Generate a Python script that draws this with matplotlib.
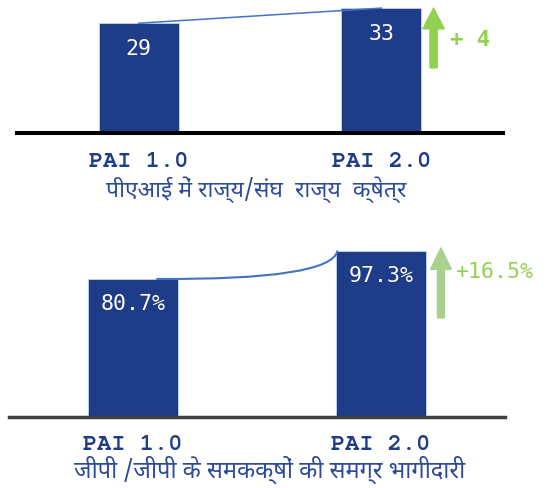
import matplotlib
matplotlib.use("Agg")
import matplotlib.pyplot as plt
from matplotlib.path import Path
from matplotlib.patches import PathPatch

# data
phases = ["PAI 1.0", "PAI 2.0"]
states_ut = [29, 33]
gp_share = [80.7, 97.3]
states_change = "+ 4"
gp_change = "+16.5%"
top_title = "पीएआई में राज्य/संघ  राज्य  क्षेत्र"
bottom_title = "जीपी /जीपी के समकक्षों की समग्र भागीदारी"

navy = "#1f3c88"
title_col = "#2c4a9a"
mono = "DejaVu Sans Mono"
hindi = ["Noto Sans Devanagari", "DejaVu Sans"]

fig = plt.figure(figsize=(5.58, 4.89), dpi=100)
ax1 = fig.add_axes([0.031, 0.726, 0.870, 0.274])
ax2 = fig.add_axes([0.0161, 0.1458, 0.889, 0.384])

x = range(len(phases))

def base_axes(ax, ymax, line_col, lw, label_y):
    ax.set_xlim(-0.5, 1.5)
    ax.set_ylim(0, ymax)
    ax.axis("off")
    ax.axhline(0, color=line_col, lw=lw, zorder=3, clip_on=False)
    for i, p in enumerate(phases):
        ax.text(i, label_y, p, transform=ax.get_xaxis_transform(), ha="center", va="center",
                fontsize=17, fontweight="bold", family="FreeMono", color=navy)

# top panel: states / UTs
base_axes(ax1, 35.4, "black", 2.9, -0.21)
ax1.bar(x, states_ut, width=0.33, color=navy, edgecolor="#bdd7ee", lw=0.6)
for i, v in enumerate(states_ut):
    ax1.annotate(str(v), (i, v), xytext=(0, -18), textcoords="offset points",
                 ha="center", va="center", color="white", fontsize=15.5, family=mono)
ax1.plot(list(x), states_ut, color="#4472c4", lw=1.1, zorder=4)
ax1.annotate("", xy=(1.215, states_ut[1]), xytext=(1.215, 17.2),
             arrowprops=dict(arrowstyle="simple,head_length=1.5,head_width=1.55,tail_width=0.52",
                             mutation_scale=10, color="#92d050", shrinkA=0, shrinkB=0))
ax1.text(1.282, 24.8, states_change, ha="left", va="center", color="#92d050",
         fontsize=16, fontweight="bold", family=mono)

# bottom panel: GP participation
base_axes(ax2, 110, "#404040", 2.5, -0.143)
ax2.bar(x, gp_share, width=0.36, color=navy, edgecolor="#bdd7ee", lw=0.6)
for i, v in enumerate(gp_share):
    ax2.annotate(f"{v}%", (i, v), xytext=(0, -17.5), textcoords="offset points",
                 ha="center", va="center", color="white", fontsize=15.5, family=mono)
x0, x1 = 0.094, 1 - 0.36 / 2 + 0.005
curve = Path([(x0, gp_share[0]), (x1 - 0.025, gp_share[0] - 0.7), (x1, gp_share[1])],
             [Path.MOVETO, Path.CURVE3, Path.CURVE3])
ax2.add_patch(PathPatch(curve, fc="none", ec="#4472c4", lw=1.5, zorder=4))
ax2.annotate("", xy=(1.2415, 98.9), xytext=(1.2415, 57.9),
             arrowprops=dict(arrowstyle="simple,head_length=1.55,head_width=1.5,tail_width=0.5",
                             mutation_scale=10, color="#a9d18e", shrinkA=0, shrinkB=0))
ax2.text(1.299, 85.6, gp_change, ha="left", va="center", color="#92d050",
         fontsize=15.5, family=mono)

fig.text(256.5 / 558, 1 - 190 / 489, top_title, ha="center", va="center",
         fontsize=16.5, family=hindi, color=title_col)
fig.text(269.4 / 558, 1 - 470 / 489, bottom_title, ha="center", va="center",
         fontsize=17, family=hindi, color=title_col)

fig.savefig("out.png", dpi=100)
